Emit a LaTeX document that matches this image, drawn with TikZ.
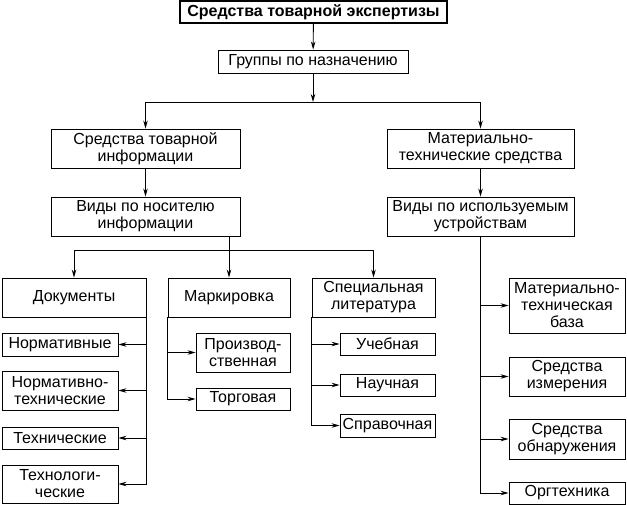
\documentclass[tikz,border=0pt]{standalone}
\usepackage{fontspec}
\setmainfont{Liberation Sans}
\usetikzlibrary{arrows.meta, positioning}

\begin{document}
\begin{tikzpicture}[x=1pt, y=-1pt,
  box/.style={draw, line width=0.9pt, align=center, inner sep=1pt,
    font=\fontsize{16}{17}\selectfont},
  arr/.style={line width=0.9pt, -{Stealth[length=8pt, width=4.5pt]}},
  ln/.style={line width=0.9pt}]
\useasboundingbox (0,0) rectangle (627,505);

% Top levels
\node[box, font=\bfseries\fontsize{16}{17}\selectfont, line width=1.2pt,
  minimum width=267pt, minimum height=22pt] (expert) at (313.5,12) {Средства товарной экспертизы};
\node[box, minimum width=190pt, minimum height=23pt] (groups) at (313,61.5) {Группы по назначению};
\coordinate (split1) at (313,102);

% Left branch
\node[box, minimum width=189pt, minimum height=39pt] (info) at (145.5,148.5) {Средства товарной\\информации};
\node[box, minimum width=189pt, minimum height=39pt] (carrier) at (145.5,216.5) {Виды по носителю\\информации};
\coordinate (split2) at (229,250);

% Right branch
\node[box, minimum width=187pt, minimum height=39pt] (material) at (480.5,148.5) {Материально-\\технические средства};
\node[box, minimum width=187pt, minimum height=39pt] (devices) at (480.5,216.5) {Виды по используемым\\устройствам};

% Carrier types
\node[box, minimum width=144pt, minimum height=39pt] (docs) at (74,297.5) {Документы};
\node[box, minimum width=122pt, minimum height=39pt] (marking) at (229,297.5) {Маркировка};
\node[box, minimum width=123pt, minimum height=39pt] (special) at (373.5,297.5) {Специальная\\литература};

% Documents
\node[box, minimum width=116pt, minimum height=23pt] (normative) at (60,344.5) {Нормативные};
\node[box, minimum width=116pt, minimum height=39pt] (normtech) at (60,390.5) {Нормативно-\\технические};
\node[box, minimum width=116pt, minimum height=22pt] (technical) at (60,438) {Технические};
\node[box, minimum width=116pt, minimum height=38pt] (technolog) at (60,484) {Технологи-\\ческие};

% Marking
\node[box, minimum width=94pt, minimum height=39pt] (production) at (243,352.5) {Производ-\\ственная};
\node[box, minimum width=94pt, minimum height=22pt] (trade) at (243,399) {Торговая};

% Literature
\node[box, minimum width=95pt, minimum height=22pt] (study) at (387.5,344) {Учебная};
\node[box, minimum width=95pt, minimum height=22pt] (science) at (387.5,385) {Научная};
\node[box, minimum width=95pt, minimum height=23pt] (reference) at (387.5,425.5) {Справочная};

% Devices
\node[box, minimum width=116pt, minimum height=55pt] (base) at (567,305.5) {Материально-\\техническая\\база};
\node[box, minimum width=116pt, minimum height=39pt] (measure) at (567,376.5) {Средства\\измерения};
\node[box, minimum width=116pt, minimum height=40pt] (detect) at (567,439) {Средства\\обнаружения};
\node[box, minimum width=116pt, minimum height=22pt] (office) at (567,493) {Оргтехника};

% Connectors
\draw[arr] (expert) -- (groups);
\draw[arr] (groups) -- (split1);
\draw[arr] (split1) -| (info);
\draw[arr] (split1) -| (material);
\draw[arr] (info) -- (carrier);
\draw[arr] (material) -- (devices);
\draw[arr] (carrier.south -| marking) -- (marking);
\draw[arr] (split2) -| (docs);
\draw[arr] (split2) -| (special);
\foreach \n in {normative,normtech,technical,technolog}
  \draw[arr] (docs.south east) |- (\n.east);
\foreach \n in {production,trade}
  \draw[arr] (marking.south west) |- (\n.west);
\foreach \n in {study,science,reference}
  \draw[arr] (special.south west) |- (\n.west);
\foreach \n in {base,measure,detect,office}
  \draw[arr] (devices.south) |- (\n.west);
\end{tikzpicture}
\end{document}
